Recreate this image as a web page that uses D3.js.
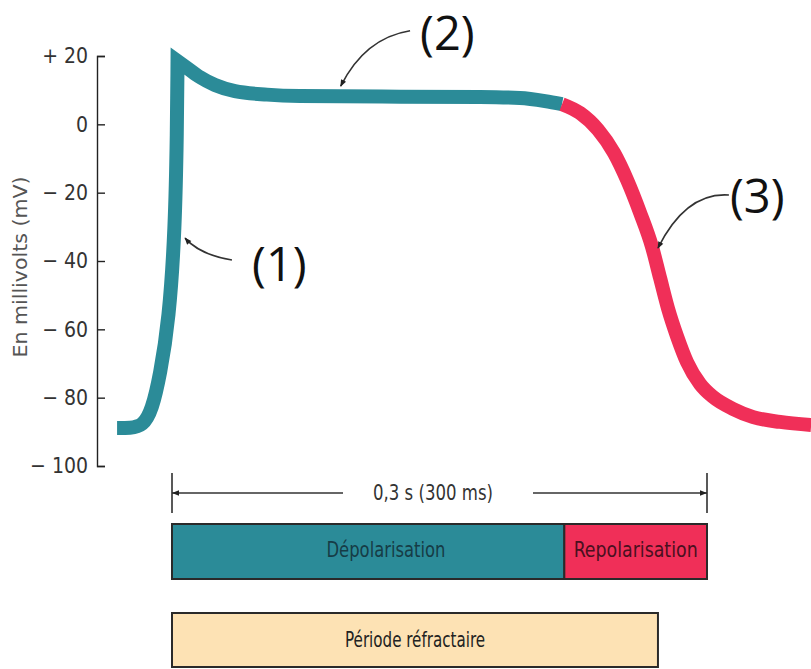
<!DOCTYPE html>
<html><head><meta charset="utf-8">
<script src="https://cdn.jsdelivr.net/npm/d3@7/dist/d3.min.js"></script>
<style>
body{margin:0;background:#fff}
svg{display:block}
.narrow{font-family:"Liberation Sans Narrow","Arial Narrow","DejaVu Sans Condensed",sans-serif}
</style>
</head><body>
<script>
// ---- Data (time in ms, potential in mV) ----
const riseT = [-30.8, -23.6, -16.3, -11.2, -6.7, -1.7, 1.7, 2.8, 3.1];
const riseV = [-88.9, -88.9, -88.3, -83.6, -73.4, -57.3, -30.9, -1.7, 18.5];
const plateauT = [3.1, 9.0, 15.7, 24.1, 35.3, 53.3, 71.8, 127.9, 172.7, 195.1, 209.2, 218.7];
const plateauV = [18.5, 16.3, 13.8, 11.5, 9.7, 8.7, 8.3, 8.1, 8.0, 7.7, 6.8, 5.9];
const repolT = [218.7, 228.8, 238.9, 247.9, 255.2, 262.5, 269.2, 273.7, 278.2, 283.3, 288.8, 296.1, 303.4, 314.6, 325.9, 341.0, 358.4];
const repolV = [5.9, 3.3, -1.6, -8.4, -16.3, -25.9, -35.9, -45.0, -54.0, -62.2, -69.6, -76.0, -79.8, -83.3, -85.7, -87.1, -88.0];

const yTicks = [20, 0, -20, -40, -60, -80, -100];
const yLabel = "En millivolts (mV)";

const durationLabel = "0,3 s (300 ms)";
const durationStart = 0, durationEnd = 300;

const phaseNames = ["Dépolarisation", "Repolarisation"];
const phaseStart = [0, 220];
const phaseEnd = [220, 300];
const phaseLabelT = [120, 260];

const refrName = "Période réfractaire";
const refrStart = 0, refrEnd = 272.5, refrLabelT = 136.3;

const annoLabels = ["(1)", "(2)", "(3)"];
const annoLabelT = [44.9, 139.1, 312.9];
const annoLabelV = [-45.9, 21.7, -26];
const arrowTail = [[33.6, -39.7], [133.5, 27.4], [312.3, -20.7]];
const arrowCtrl = [[15.7, -38.2], [108.2, 25.3], [288.2, -19.8]];
const arrowHead = [[7.3, -33.3], [94.6, 11.2], [272.5, -36.2]];

// ---- Layout ----
const W = 811, H = 669;
const teal = "#2b8b98", red = "#f02f58", beige = "#fde2b4";

const svg = d3.select("body").append("svg").attr("width", W).attr("height", H);

const x = d3.scaleLinear().domain([0, 300]).range([172, 707]);
const y = d3.scaleLinear().domain([-100, 20]).range([466, 56]);

// markers
const defs = svg.append("defs");
defs.append("marker").attr("id", "ah").attr("viewBox", "0 -5 10 10")
  .attr("refX", 9).attr("refY", 0).attr("markerWidth", 9).attr("markerHeight", 7)
  .attr("markerUnits", "userSpaceOnUse").attr("orient", "auto")
  .append("path").attr("d", "M0,-4L10,0L0,4Z").attr("fill", "#222");
defs.append("marker").attr("id", "dh").attr("viewBox", "0 -5 10 10")
  .attr("refX", 10).attr("refY", 0).attr("markerWidth", 9).attr("markerHeight", 7)
  .attr("markerUnits", "userSpaceOnUse").attr("orient", "auto-start-reverse")
  .append("path").attr("d", "M0,-4L10,0L0,4Z").attr("fill", "#222");

// y axis
const fmt = d => d > 0 ? "+ " + d : d < 0 ? "\u2212 " + (-d) : "0";
const yAxis = d3.axisLeft(y).tickValues(yTicks).tickFormat(fmt)
  .tickSizeInner(-8).tickSizeOuter(-8).tickPadding(9);
const gy = svg.append("g").attr("transform", "translate(97,0)").call(yAxis);
gy.select(".domain").attr("stroke", "#222").attr("stroke-width", 1.4);
gy.selectAll(".tick line").attr("stroke", "#222").attr("stroke-width", 1.4);
gy.selectAll(".tick text").attr("class", "narrow").attr("font-size", 21).attr("fill", "#333");

svg.append("text").attr("class", "narrow")
  .attr("transform", "translate(27,267) rotate(-90)")
  .attr("text-anchor", "middle").attr("font-size", 19).attr("fill", "#555")
  .attr("textLength", 181).attr("lengthAdjust", "spacingAndGlyphs")
  .text(yLabel);

// curve
const xy = d => [x(d[0]), y(d[1])];
const riseLine = d3.line().x(d => x(d[0])).y(d => y(d[1])).curve(d3.curveBasis);
const smoothLine = d3.line().x(d => x(d[0])).y(d => y(d[1])).curve(d3.curveMonotoneX);
const rise = d3.zip(riseT, riseV);
const plateau = d3.zip(plateauT, plateauV);
const repol = d3.zip(repolT, repolV);
const dTeal = riseLine(rise) + smoothLine(plateau).replace(/^M[^A-Za-z]*/, "");
svg.append("path").attr("d", dTeal).attr("fill", "none").attr("stroke", teal)
  .attr("stroke-width", 14).attr("stroke-linejoin", "miter").attr("stroke-miterlimit", 10);
svg.append("path").attr("d", smoothLine(repol)).attr("fill", "none").attr("stroke", red)
  .attr("stroke-width", 14);

// annotations
annoLabels.forEach((lab, i) => {
  const p = d3.path();
  p.moveTo(x(arrowTail[i][0]), y(arrowTail[i][1]));
  p.quadraticCurveTo(x(arrowCtrl[i][0]), y(arrowCtrl[i][1]), x(arrowHead[i][0]), y(arrowHead[i][1]));
  svg.append("path").attr("d", p.toString()).attr("fill", "none")
    .attr("stroke", "#333").attr("stroke-width", 1.6).attr("marker-end", "url(#ah)");
  svg.append("text").attr("x", x(annoLabelT[i])).attr("y", y(annoLabelV[i]))
    .attr("font-family", "Open Sans, sans-serif").attr("font-size", 47).attr("fill", "#111")
    .text(lab);
});

// duration dimension line
const dimY = 493;
[durationStart, durationEnd].forEach(t => {
  svg.append("line").attr("x1", x(t)).attr("x2", x(t)).attr("y1", 473).attr("y2", 513)
    .attr("stroke", "#222").attr("stroke-width", 1.5);
});
svg.append("line").attr("x1", x(durationStart)).attr("x2", 343).attr("y1", dimY).attr("y2", dimY)
  .attr("stroke", "#333").attr("stroke-width", 1.5).attr("marker-start", "url(#dh)");
svg.append("line").attr("x1", 533).attr("x2", x(durationEnd)).attr("y1", dimY).attr("y2", dimY)
  .attr("stroke", "#333").attr("stroke-width", 1.5).attr("marker-end", "url(#dh)");
svg.append("text").attr("class", "narrow").attr("x", 433).attr("y", 500)
  .attr("text-anchor", "middle").attr("font-size", 21).attr("fill", "#333")
  .attr("textLength", 120).attr("lengthAdjust", "spacingAndGlyphs").text(durationLabel);

// phase bars
const phaseColors = [teal, red];
const phaseText = ["#163c46", "#4a1020"];
const phaseTextLen = [119, 124];
phaseNames.forEach((n, i) => {
  svg.append("rect").attr("x", x(phaseStart[i])).attr("y", 524)
    .attr("width", x(phaseEnd[i]) - x(phaseStart[i])).attr("height", 55)
    .attr("fill", phaseColors[i]).attr("stroke", "#2a2a2a").attr("stroke-width", 2);
  svg.append("text").attr("class", "narrow").attr("x", x(phaseLabelT[i])).attr("y", 557)
    .attr("text-anchor", "middle").attr("font-size", 21).attr("fill", phaseText[i])
    .attr("textLength", phaseTextLen[i]).attr("lengthAdjust", "spacingAndGlyphs").text(n);
});

svg.append("rect").attr("x", x(refrStart)).attr("y", 613)
  .attr("width", x(refrEnd) - x(refrStart)).attr("height", 54)
  .attr("fill", beige).attr("stroke", "#2a2a2a").attr("stroke-width", 2);
svg.append("text").attr("class", "narrow").attr("x", x(refrLabelT)).attr("y", 647)
  .attr("text-anchor", "middle").attr("font-size", 21).attr("fill", "#222")
  .attr("textLength", 140).attr("lengthAdjust", "spacingAndGlyphs").text(refrName);
</script>
</body></html>
